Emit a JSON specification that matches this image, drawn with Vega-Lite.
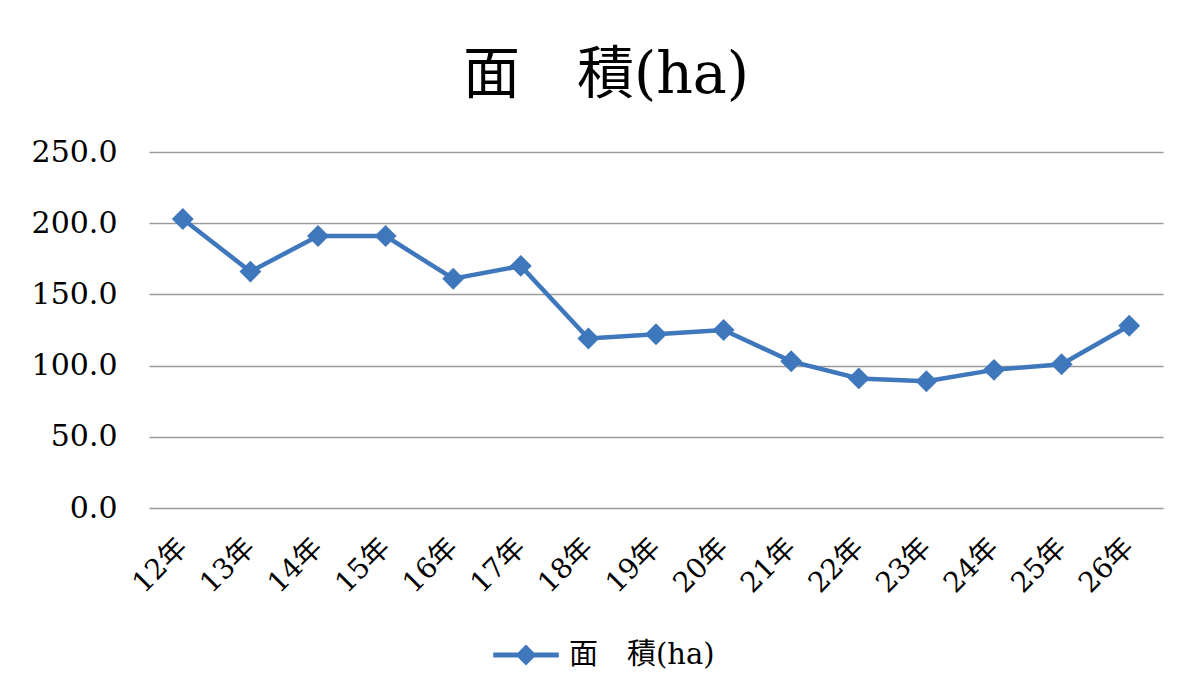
{
  "$schema": "https://vega.github.io/schema/vega-lite/v6.json",
  "autosize": "none",
  "width": 1014,
  "height": 356,
  "padding": {"left": 149, "top": 152, "right": 36, "bottom": 192},
  "background": "white",
  "title": {
    "text": "面　積(ha)",
    "font": "DejaVu Serif, Noto Sans CJK JP",
    "fontSize": 57,
    "fontWeight": "normal",
    "color": "#000000",
    "anchor": "middle",
    "offset": 32,
    "dx": -50
  },
  "data": {
    "values": [
      {"year": "12年", "area": 203, "series": "面　積(ha)"},
      {"year": "13年", "area": 166, "series": "面　積(ha)"},
      {"year": "14年", "area": 191, "series": "面　積(ha)"},
      {"year": "15年", "area": 191, "series": "面　積(ha)"},
      {"year": "16年", "area": 161, "series": "面　積(ha)"},
      {"year": "17年", "area": 170, "series": "面　積(ha)"},
      {"year": "18年", "area": 119, "series": "面　積(ha)"},
      {"year": "19年", "area": 122, "series": "面　積(ha)"},
      {"year": "20年", "area": 125, "series": "面　積(ha)"},
      {"year": "21年", "area": 103, "series": "面　積(ha)"},
      {"year": "22年", "area": 91, "series": "面　積(ha)"},
      {"year": "23年", "area": 89, "series": "面　積(ha)"},
      {"year": "24年", "area": 97, "series": "面　積(ha)"},
      {"year": "25年", "area": 101, "series": "面　積(ha)"},
      {"year": "26年", "area": 128, "series": "面　積(ha)"}
    ]
  },
  "encoding": {
    "x": {
      "field": "year",
      "type": "ordinal",
      "sort": null,
      "scale": {"type": "point", "padding": 0.5},
      "axis": {
        "title": null,
        "labelAngle": -45,
        "labelAlign": "right",
        "labelBaseline": "middle",
        "labelFont": "DejaVu Serif, Noto Sans CJK JP",
        "labelFontSize": 28,
        "labelColor": "#000000",
        "labelPadding": 35,
        "ticks": false,
        "domain": false,
        "grid": false
      }
    },
    "y": {
      "field": "area",
      "type": "quantitative",
      "scale": {"domain": [0, 250], "nice": false},
      "axis": {
        "title": null,
        "values": [0, 50, 100, 150, 200, 250],
        "format": ".1f",
        "labelFont": "DejaVu Serif",
        "labelFontSize": 30,
        "labelColor": "#000000",
        "labelPadding": 32,
        "ticks": false,
        "domain": false,
        "grid": true,
        "gridColor": "#9a9a9a",
        "gridWidth": 1.3
      }
    },
    "color": {
      "field": "series",
      "type": "nominal",
      "scale": {"range": ["#3f77bc"]},
      "legend": {
        "title": null,
        "orient": "none",
        "legendX": 344,
        "legendY": 470,
        "labelFont": "DejaVu Serif, Noto Sans CJK JP",
        "labelFontSize": 29,
        "labelColor": "#000000",
        "labelOffset": 10,
        "symbolType": "M-1,-0.075L1,-0.075L1,0.075L-1,0.075Z M0,-0.32L0.32,0L0,0.32L-0.32,0Z",
        "symbolSize": 4300,
        "symbolFillColor": "#3f77bc",
        "symbolStrokeWidth": 0,
        "symbolOpacity": 1
      }
    }
  },
  "layer": [
    {"mark": {"type": "line", "strokeWidth": 4.5}},
    {"mark": {"type": "point", "shape": "diamond", "filled": true, "size": 480, "opacity": 1}}
  ],
  "config": {"view": {"stroke": null}}
}
